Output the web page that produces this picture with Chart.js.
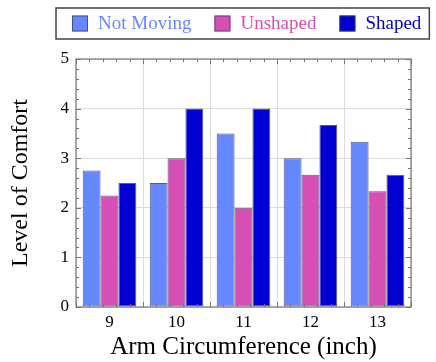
<!DOCTYPE html>
<html lang="en">
<head>
    <meta charset="UTF-8">
    <title>Level of Comfort</title>
    <script src="https://cdn.jsdelivr.net/npm/chart.js"></script>
    <style>
        body { margin: 0; background: #fff; }
        #wrap { width: 436px; height: 362px; }
    </style>
</head>
<body>
<div id="wrap">
    <canvas id="comfortChart" width="436" height="362"></canvas>
</div>

<script>
    // Data
    const categories = ['9', '10', '11', '12', '13'];
    const seriesNames = ['Not Moving', 'Unshaped', 'Shaped'];
    const notMoving = [2.75, 2.5, 3.5, 3, 3.333];
    const unshaped = [2.25, 3, 2, 2.667, 2.333];
    const shaped = [2.5, 4, 4, 3.667, 2.667];
    const yTicks = [0, 1, 2, 3, 4, 5];

    const colors = ['#6688ff', '#d64fb4', '#0000d2'];
    const serif = "'Liberation Serif', 'Times New Roman', serif";

    // frame, inward ticks and boxed legend (pgfplots look)
    const decorations = {
        id: 'decorations',
        afterDraw(chart) {
            const c = chart.ctx;
            const a = chart.chartArea;
            const x = chart.scales.x;
            const y = chart.scales.y;
            c.save();

            c.strokeStyle = '#777';
            c.lineWidth = 1;
            // y ticks, major every 1 and minor every 0.2
            for (let i = 0; i <= 25; i++) {
                const py = Math.round(y.getPixelForValue(i / 5)) + 0.5;
                const len = i % 5 === 0 ? 5 : 3;
                c.beginPath();
                c.moveTo(a.left, py); c.lineTo(a.left + len, py);
                c.moveTo(a.right, py); c.lineTo(a.right - len, py);
                c.stroke();
            }
            // x ticks at category edges and minor in between
            for (let i = 0; i <= categories.length * 5; i++) {
                const px = Math.round(x.getPixelForValue(i / 5 - 0.5)) + 0.5;
                const len = i % 5 === 0 ? 5 : 3;
                c.beginPath();
                c.moveTo(px, a.top); c.lineTo(px, a.top + len);
                c.moveTo(px, a.bottom); c.lineTo(px, a.bottom - len);
                c.stroke();
            }
            c.lineWidth = 1.2;
            c.strokeRect(a.left, a.top, a.right - a.left, a.bottom - a.top);

            // legend
            c.font = '19px ' + serif;
            c.textBaseline = 'middle';
            const boxLeft = 56, boxTop = 8, boxH = 31;
            let cx = boxLeft + 16;
            const cy = boxTop + boxH / 2;
            chart.data.datasets.forEach((ds, i) => {
                c.fillStyle = ds.backgroundColor;
                c.fillRect(cx, cy - 8, 16, 16);
                c.strokeStyle = 'rgba(60,60,90,0.7)';
                c.lineWidth = 1;
                c.strokeRect(cx + 0.5, cy - 7.5, 15, 15);
                c.fillStyle = ds.backgroundColor;
                c.fillText(ds.label, cx + 26, cy + 1);
                cx += 26 + c.measureText(ds.label).width;
                if (i < chart.data.datasets.length - 1) cx += 23;
            });
            c.strokeStyle = '#444';
            c.lineWidth = 1.5;
            c.strokeRect(boxLeft, boxTop, cx + 8 - boxLeft, boxH);
            c.restore();
        }
    };

    const ctx = document.getElementById('comfortChart').getContext('2d');
    const comfortChart = new Chart(ctx, {
        type: 'bar',
        data: {
            labels: categories,
            datasets: [notMoving, unshaped, shaped].map((values, i) => ({
                label: seriesNames[i],
                data: values,
                backgroundColor: colors[i],
                borderColor: 'rgba(50,50,80,0.8)',
                borderWidth: 1,
                borderSkipped: false,
                barPercentage: 1,
                categoryPercentage: 0.8
            }))
        },
        options: {
            responsive: false,
            animation: false,
            layout: { padding: { top: 59, right: 25, left: 0, bottom: 0 } },
            plugins: {
                legend: { display: false },
                tooltip: { enabled: false }
            },
            scales: {
                x: {
                    grid: { offset: true, color: '#dcdcdc', drawTicks: false },
                    border: { display: false },
                    ticks: { color: '#000', padding: 5, font: { family: serif, size: 17 } },
                    title: {
                        display: true,
                        text: 'Arm Circumference (inch)',
                        color: '#000',
                        padding: 0,
                        font: { family: serif, size: 25 }
                    },
                    afterFit(scale) { scale.height = 55; }
                },
                y: {
                    min: 0,
                    max: 5,
                    afterBuildTicks(scale) { scale.ticks = yTicks.map(v => ({ value: v })); },
                    grid: { color: '#dcdcdc', drawTicks: false },
                    border: { display: false },
                    ticks: { color: '#000', padding: 7, font: { family: serif, size: 17 } },
                    title: {
                        display: true,
                        text: 'Level of Comfort',
                        color: '#000',
                        padding: { top: 6 },
                        font: { family: serif, size: 24 }
                    },
                    afterFit(scale) { scale.width = 76; }
                }
            }
        },
        plugins: [decorations]
    });
</script>
</body>
</html>
